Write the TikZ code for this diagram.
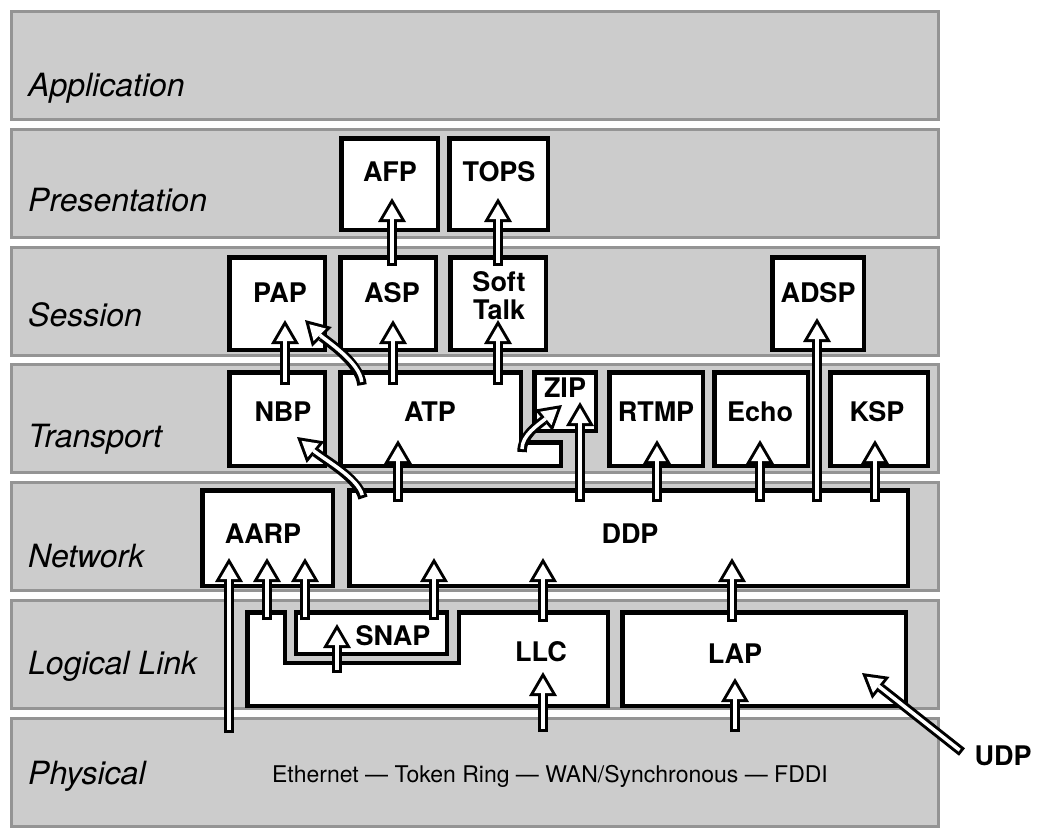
\documentclass[tikz,border=0pt]{standalone}
\usepackage{fontspec}
\setmainfont{TeX Gyre Heros}
\usetikzlibrary{arrows.meta}
\tikzset{
  band/.style={fill=black!20, draw=black!42, line width=3pt},
  lay/.style={anchor=west, inner sep=0pt, font=\fontsize{32}{32}\selectfont\itshape, text height=22pt, text depth=0pt},
  box/.style={draw=black, fill=white, line width=4.5pt},
  lbl/.style={inner sep=0pt, font=\fontsize{27}{28}\selectfont\bfseries, text height=19.4pt, text depth=0pt},
  ho/.style={line width=9.5pt, black, -{Triangle[length=24pt,width=28pt,line width=0pt]}},
  hi/.style={line width=3.5pt, white, shorten <=3pt, shorten >=6pt, -{Triangle[length=15pt,width=17.6pt,line width=0pt]}},
}
\newcommand\mybox[5]{\node[box, inner sep=0pt, minimum width={#4-#2-4.5}, minimum height={#5-#3-4.5}] (#1) at ({(#2+#4)/2},{(#3+#5)/2}) {};}
\newcommand\harr[1]{\draw[ho] #1; \draw[hi] #1;}
\begin{document}
\begin{tikzpicture}[x=1pt,y=-1pt]
\useasboundingbox (0,0) rectangle (1046,831);
% layer bands
\foreach \i in {0,...,6}{
  \draw[band] (11.5,{10+117.8*\i+1.5}) rectangle (938.5,{10+117.8*\i+111-1.5});
}
\node[lay] (lapp) at (28,85) {Application};
\node[lay] (lpres) at (28,200) {Presentation};
\node[lay] (lsess) at (28,315) {Session};
\node[lay] (ltran) at (28,436) {Transport};
\node[lay] (lnet) at (28,556) {Network};
\node[lay] (llog) at (28,663) {Logical Link};
\node[lay] (lphy) at (28,773) {Physical};
\node[inner sep=0pt, font=\fontsize{23}{23}\selectfont, text height=16.5pt, text depth=0pt] (phys) at (550,774) {Ethernet — Token Ring — WAN/Synchronous — FDDI};
% boxes
\mybox{afp}{339}{136}{440}{232}
\mybox{tops}{447}{136}{550}{232}
\mybox{pap}{227}{255}{327}{352}
\mybox{asp}{338}{255}{438}{352}
\mybox{soft}{448}{255}{548}{352}
\mybox{adsp}{770}{255}{866}{352}
\mybox{nbp}{227}{370}{327}{468}
\draw[box] (340.25,372.25) -- (520.75,372.25) -- (520.75,442.25) -- (560.75,442.25) -- (560.75,465.75) -- (340.25,465.75) -- cycle;
\mybox{zip}{532}{370}{598}{433}
\mybox{rtmp}{607}{370}{705}{468}
\mybox{echo}{712}{370}{810}{468}
\mybox{ksp}{828}{370}{930}{468}
\mybox{aarp}{200}{488}{335}{588}
\mybox{ddp}{347}{488}{910}{588}
\draw[box] (247.5,612.5) -- (285,612.5) -- (285,663) -- (459,663) -- (459,612.5) -- (607.75,612.5) -- (607.75,705.75) -- (247.5,705.75) -- cycle;
\draw[box] (296,612.5) rectangle (447,654);
\mybox{lap}{620}{610}{908}{708}
% labels
\node[lbl] (afpT) at (390,172) {AFP};
\node[lbl] (topsT) at (499,172) {TOPS};
\node[lbl] (papT) at (280,293) {PAP};
\node[lbl] (aspT) at (392,293) {ASP};
\node[inner sep=0pt, align=center, font=\fontsize{27}{28}\selectfont\bfseries] (softT) at (499,295.5) {Soft\\Talk};
\node[lbl] (adspT) at (818,293) {ADSP};
\node[lbl] (nbpT) at (283,412) {NBP};
\node[lbl] (atp) at (430,412) {ATP};
\node[lbl] (zipT) at (565,388) {ZIP};
\node[lbl] (rtmpT) at (656,412) {RTMP};
\node[lbl] (echoT) at (760,412) {Echo};
\node[lbl] (kspT) at (877,412) {KSP};
\node[lbl] (aarpT) at (263,534) {AARP};
\node[lbl] (ddpT) at (630,534) {DDP};
\node[lbl] (snap) at (393,636) {SNAP};
\node[lbl] (llc) at (541,652) {LLC};
\node[lbl] (lapT) at (735,654) {LAP};
\node[lbl] (udp) at (1003,756) {UDP};
% arrow end points
\coordinate (a1) at (285,385); \coordinate (b1) at (285,320);
\coordinate (a2) at (393,385); \coordinate (b2) at (393,320);
\coordinate (a3) at (498,385); \coordinate (b3) at (498,320);
\coordinate (a4) at (392,266); \coordinate (b4) at (392,198);
\coordinate (a5) at (498,266); \coordinate (b5) at (498,198);
\coordinate (a6) at (398,502); \coordinate (b6) at (398,440);
\coordinate (a7) at (580,502); \coordinate (b7) at (580,402);
\coordinate (a8) at (657,502); \coordinate (b8) at (657,440);
\coordinate (a9) at (760,502); \coordinate (b9) at (760,440);
\coordinate (a10) at (817,502); \coordinate (b10) at (817,318);
\coordinate (a11) at (875,502); \coordinate (b11) at (875,440);
\coordinate (a12) at (229,733); \coordinate (b12) at (229,558);
\coordinate (a13) at (267,620); \coordinate (b13) at (267,558);
\coordinate (a14) at (305,620); \coordinate (b14) at (305,558);
\coordinate (a15) at (434,620); \coordinate (b15) at (434,558);
\coordinate (a16) at (337,673); \coordinate (b16) at (337,624);
\coordinate (a17) at (543,622); \coordinate (b17) at (543,558);
\coordinate (a18) at (732,622); \coordinate (b18) at (732,558);
\coordinate (a19) at (543,732); \coordinate (b19) at (543,672);
\coordinate (a20) at (735,732); \coordinate (b20) at (735,678);
\coordinate (c1) at (362,385); \coordinate (d1) at (305,320);
\coordinate (c2) at (363,498); \coordinate (d2) at (297,437);
\coordinate (c3) at (522,452); \coordinate (d3) at (562,405);
\coordinate (c4) at (962,752); \coordinate (d4) at (862,673);
% arrows
\foreach \k in {1,...,20}{\harr{(a\k) -- (b\k)}}
\harr{(c1) .. controls (360,362) and (325,340) .. (d1)}
\harr{(c2) .. controls (358,478) and (325,460) .. (d2)}
\harr{(c3) .. controls (522,435) and (538,425) .. (d3)}
\harr{(c4) -- (d4)}
\end{tikzpicture}
\end{document}
